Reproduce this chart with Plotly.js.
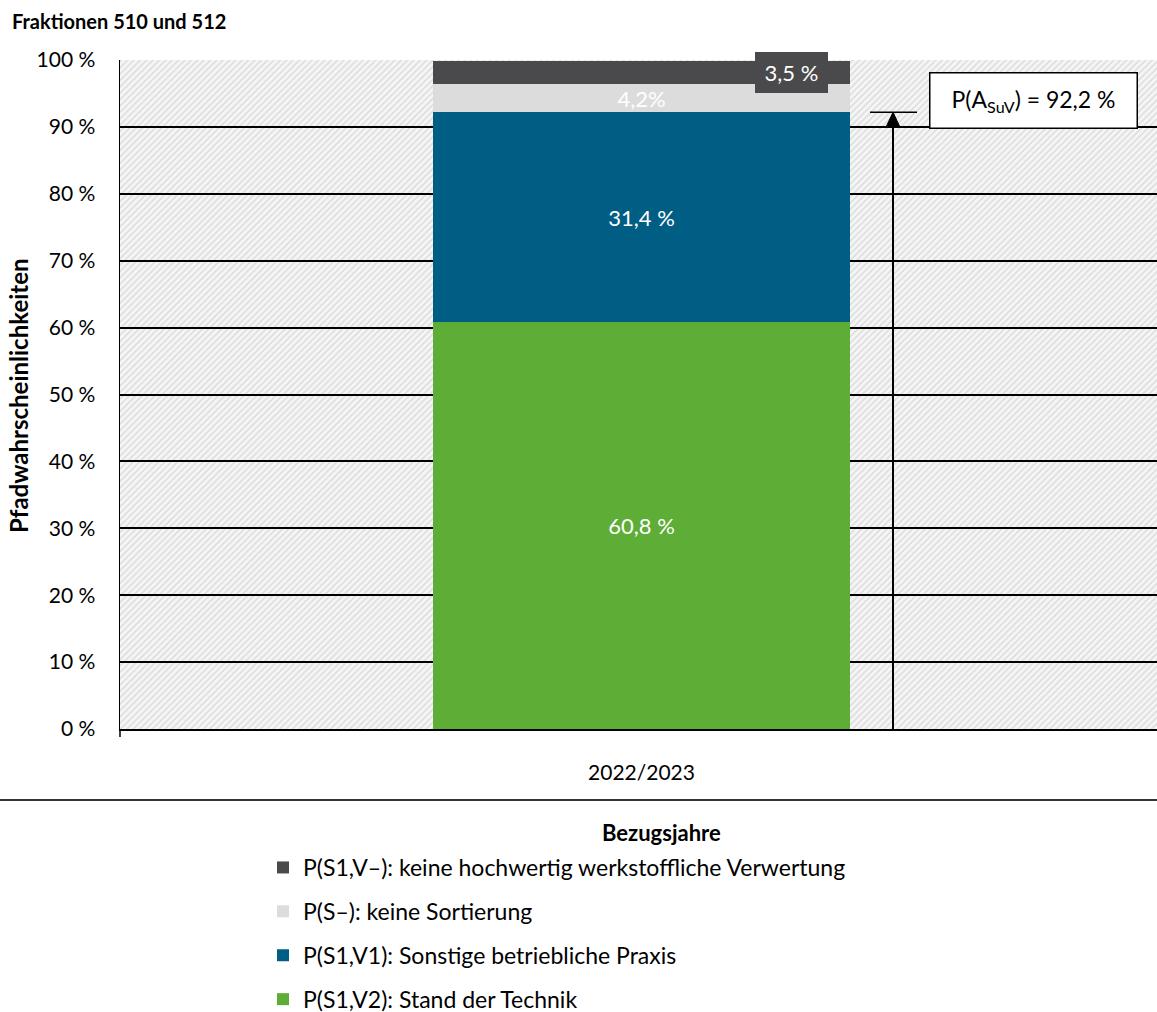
<!DOCTYPE html>
<html>
<head>
<meta charset="utf-8">
<script src="https://cdn.plot.ly/plotly-3.0.1.min.js"></script>
<style>html,body{margin:0;padding:0;background:#fff;}#chart{width:1157px;height:1012px;}</style>
</head>
<body>
<div id="chart"></div>
<script>
// ---- data ----
const categories = ["2022/2023"];
const seriesNames = [
  "P(S1,V2): Stand der Technik",
  "P(S1,V1): Sonstige betriebliche Praxis",
  "P(S–): keine Sortierung",
  "P(S1,V–): keine hochwertig werkstoffliche Verwertung"
];
const seriesValues = [[60.8], [31.4], [4.2], [3.5]];
const seriesLabels = ["60,8 %", "31,4 %", "4,2%", "3,5 %"];
const seriesColors = ["#5ead36", "#005e84", "#dcdcdc", "#4a4a4c"];
const yTickVals = [0, 10, 20, 30, 40, 50, 60, 70, 80, 90, 100];
const yTickText = yTickVals.map(v => v + " %");
const suvValue = seriesValues[0][0] + seriesValues[1][0];
const suvLabel = "P(A<sub>SuV</sub>) = " + suvValue.toFixed(1).replace(".", ",") + " %";

const FONT = "Lato, 'Open Sans', sans-serif";

const traces = seriesNames.map((name, i) => {
  const t = {
    type: "bar",
    name: name,
    x: categories,
    y: seriesValues[i],
    width: 0.4,
    marker: { color: seriesColors[i], line: { width: 0 } },
    legendgroup: "g" + i,
    legendrank: seriesNames.length - i,
    hoverinfo: "skip"
  };
  if (i < 3) {
    t.text = [seriesLabels[i]];
    t.textposition = "inside";
    t.insidetextanchor = "middle";
    t.constraintext = "none";
    t.textfont = { color: "#ffffff", size: 22, family: FONT };
  } else {
    t.textposition = "none";
  }
  return t;
});

// hatched background
const hatchSvg = "<svg xmlns='http://www.w3.org/2000/svg' width='1037' height='669' viewBox='0 0 1037 669'>" +
  "<defs><pattern id='h' width='4.5' height='4.5' patternUnits='userSpaceOnUse' patternTransform='rotate(45)'>" +
  "<rect width='4.5' height='4.5' fill='#f5f5f5'/><line x1='1' y1='0' x2='1' y2='4.5' stroke='#dadada' stroke-width='1.4'/>" +
  "</pattern></defs><rect width='1037' height='669' fill='url(#h)'/></svg>";
const hatchUri = "data:image/svg+xml;charset=utf-8," + encodeURIComponent(hatchSvg);

const L = 120, R = 1157, T = 60, B = 729;
const W = R - L, H = B - T;
const px = x => (x - L) / W;
const py = y => (B - y) / H;
const dy = pix => pix / H * 100; // pixels -> data units on y

const dark = seriesValues.slice(0, 3).reduce((a, s) => a + s[0], 0) + seriesValues[3][0] / 2;
const arrowX = px(893);
const headHalf = 7 / W, headH = dy(15);

const layout = {
  width: 1157, height: 1012,
  margin: { l: L, r: 0, t: T, b: 1012 - B, pad: 0, autoexpand: false },
  paper_bgcolor: "#ffffff",
  plot_bgcolor: "rgba(0,0,0,0)",
  separators: ",.",
  barmode: "stack",
  font: { family: FONT, color: "#000000", size: 20 },
  title: {
    text: "<b>Fraktionen 510 und 512</b>",
    font: { family: FONT, size: 20, color: "#000" },
    x: 12 / 1157, xanchor: "left", xref: "container",
    y: 1 - 22 / 1012, yanchor: "middle", yref: "container"
  },
  xaxis: {
    type: "category",
    range: [-0.5, 0.4942],
    showgrid: false,
    showline: true, linecolor: "#000", linewidth: 2,
    ticks: "outside", ticklen: 24, tickcolor: "rgba(0,0,0,0)",
    tickfont: { family: FONT, size: 21, color: "#000" },
    automargin: false,
    fixedrange: true
  },
  yaxis: {
    range: [0, 100],
    tickvals: yTickVals, ticktext: yTickText,
    showgrid: true, gridcolor: "#000", gridwidth: 2,
    zeroline: false,
    showline: true, linecolor: "#000", linewidth: 1.5,
    ticks: "outside", ticklen: 19, tickcolor: "rgba(0,0,0,0)",
    tickfont: { family: FONT, size: 21, color: "#000" },
    automargin: false,
    fixedrange: true
  },
  showlegend: true,
  legend: {
    orientation: "v",
    x: 263 / 1157, xanchor: "left", xref: "container",
    y: 1 - 846 / 1012, yanchor: "top", yref: "container",
    traceorder: "grouped",
    tracegroupgap: 11,
    font: { family: FONT, size: 23, color: "#000" },
    bgcolor: "rgba(0,0,0,0)"
  },
  images: [{
    source: hatchUri, xref: "paper", yref: "paper",
    x: 0, y: 1, sizex: 1, sizey: 1, sizing: "stretch",
    xanchor: "left", yanchor: "top", layer: "below"
  }],
  shapes: [
    // bracket at P(A_SuV)
    { type: "line", xref: "paper", yref: "y", x0: px(870), x1: px(917), y0: suvValue, y1: suvValue,
      line: { color: "#000", width: 1.5 } },
    // arrow shaft
    { type: "line", xref: "paper", yref: "y", x0: arrowX, x1: arrowX, y0: 0, y1: suvValue - headH,
      line: { color: "#000", width: 2 } },
    // arrow head
    { type: "path", xref: "paper", yref: "y",
      path: "M " + (arrowX - headHalf) + " " + (suvValue - headH) +
            " L " + (arrowX + headHalf) + " " + (suvValue - headH) +
            " L " + arrowX + " " + suvValue + " Z",
      fillcolor: "#000", line: { color: "#000", width: 1 } },
    // left axis extension
    { type: "line", xref: "paper", yref: "paper", x0: 0, x1: 0, y0: 0, y1: py(737),
      line: { color: "#000", width: 1.5 } },
    // separator line
    { type: "line", xref: "paper", yref: "paper", x0: px(0), x1: 1, y0: py(800), y1: py(800),
      line: { color: "#333", width: 2 } }
  ],
  annotations: [
    { xref: "paper", yref: "y", x: px(1033), y: (B - 100) / H * 100,
      text: suvLabel, showarrow: false,
      font: { family: FONT, size: 23, color: "#000" },
      bgcolor: "#ffffff", bordercolor: "#000", borderwidth: 1.5,
      width: 204, height: 52, xanchor: "center", yanchor: "middle" },
    { xref: "paper", yref: "y", x: px(791.5), y: dark,
      text: seriesLabels[3], showarrow: false,
      font: { family: FONT, size: 22, color: "#ffffff" },
      bgcolor: seriesColors[3], borderwidth: 0,
      width: 71, height: 39, xanchor: "center", yanchor: "middle" },
    { xref: "paper", yref: "paper", x: px(18), y: py(396),
      text: "<b>Pfadwahrscheinlichkeiten</b>", textangle: -90, showarrow: false,
      font: { family: FONT, size: 24, color: "#000" }, xanchor: "center", yanchor: "middle" },
    { xref: "paper", yref: "paper", x: px(661), y: py(832),
      text: "<b>Bezugsjahre</b>", showarrow: false,
      font: { family: FONT, size: 22, color: "#000" }, xanchor: "center", yanchor: "middle" }
  ]
};

Plotly.newPlot("chart", traces, layout, { staticPlot: true, displayModeBar: false });
</script>
</body>
</html>
